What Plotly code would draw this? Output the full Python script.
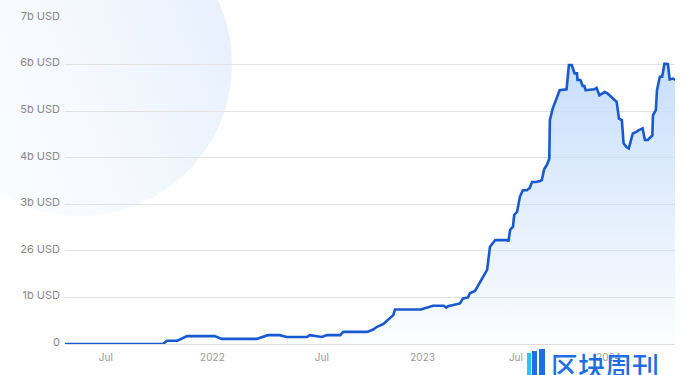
import base64
import plotly.graph_objects as go

# ---- data ----
dates = [
    "2021-04-19", "2021-10-07", "2021-10-14", "2021-11-01", "2021-11-18",
    "2022-01-05", "2022-01-17", "2022-03-19", "2022-04-07", "2022-04-28",
    "2022-05-10", "2022-06-14", "2022-06-19", "2022-07-10", "2022-07-19",
    "2022-08-11", "2022-08-16", "2022-09-27", "2022-10-07", "2022-10-14",
    "2022-10-25", "2022-11-01", "2022-11-11", "2022-11-14", "2022-12-29",
    "2023-01-19", "2023-02-07", "2023-02-11", "2023-02-14", "2023-03-07",
    "2023-03-12", "2023-03-21", "2023-03-24", "2023-04-02", "2023-04-23",
    "2023-04-28", "2023-05-07", "2023-05-28", "2023-05-30", "2023-06-02",
    "2023-06-07", "2023-06-09", "2023-06-14", "2023-06-19", "2023-06-24",
    "2023-07-01", "2023-07-06", "2023-07-10", "2023-07-17", "2023-07-24",
    "2023-07-27", "2023-07-31", "2023-08-05", "2023-08-09", "2023-08-10",
    "2023-08-15", "2023-08-22", "2023-08-27", "2023-09-08", "2023-09-12",
    "2023-09-17", "2023-09-22", "2023-09-26", "2023-09-27", "2023-10-02",
    "2023-10-06", "2023-10-09", "2023-10-11", "2023-10-26", "2023-10-30",
    "2023-11-04", "2023-11-13", "2023-11-18", "2023-11-27", "2023-12-04",
    "2023-12-08", "2023-12-13", "2023-12-16", "2023-12-21", "2023-12-25",
    "2024-01-01", "2024-01-08", "2024-01-11", "2024-01-18", "2024-01-22",
    "2024-01-27", "2024-02-04", "2024-02-05", "2024-02-10", "2024-02-12",
    "2024-02-17", "2024-02-21", "2024-02-25", "2024-03-02", "2024-03-05",
    "2024-03-11", "2024-03-15",
]
values_b = [
    0.00, 0.00, 0.07, 0.07, 0.17,
    0.17, 0.11, 0.11, 0.19, 0.19,
    0.15, 0.15, 0.19, 0.15, 0.19,
    0.19, 0.26, 0.26, 0.31, 0.37,
    0.43, 0.51, 0.62, 0.74, 0.74,
    0.82, 0.82, 0.78, 0.81, 0.87,
    0.98, 1.00, 1.09, 1.14, 1.59,
    2.09, 2.23, 2.23, 2.20, 2.45,
    2.52, 2.77, 2.84, 3.16, 3.30,
    3.30, 3.35, 3.48, 3.48, 3.50,
    3.52, 3.75, 3.85, 3.98, 4.81,
    5.06, 5.27, 5.45, 5.47, 5.99,
    5.99, 5.81, 5.81, 5.67, 5.67,
    5.54, 5.54, 5.45, 5.47, 5.50,
    5.34, 5.41, 5.38, 5.27, 5.20,
    4.84, 4.81, 4.31, 4.23, 4.20,
    4.52, 4.56, 4.59, 4.63, 4.38,
    4.38, 4.48, 4.91, 5.02, 5.45,
    5.74, 5.74, 6.02, 6.01, 5.68,
    5.70, 5.67,
]
y_tickvals = [0, 1, 2, 3, 4, 5, 6, 7]
y_ticktext = ["0", "1b USD", "26 USD", "3b USD", "4b USD", "5b USD", "6b USD", "7b USD"]
x_tickvals = ["2021-06-30", "2022-01-01", "2022-07-10", "2023-01-01", "2023-06-12", "2023-11-20"]
x_ticktext = ["Jul", "2022", "Jul", "2023", "Jul", "2024"]
x_range = ["2021-04-20", "2024-03-14 07:00"]
logo_text = "区块周刊"

# ---- geometry helpers (plot area in pixels) ----
W, H = 682, 375
L, R, T, B = 65, 7, 18, 31
PW, PH = W - L - R, H - T - B


def px(x):
    return (x - L) / PW


def py(y):
    return (H - B - y) / PH


fig = go.Figure()
fig.add_trace(go.Scatter(
    x=dates, y=values_b, mode="lines",
    line=dict(color="#1759d1", width=2.6),
    fill="tozeroy",
    fillgradient=dict(
        type="vertical",
        colorscale=[[0, "rgba(205,225,251,0.08)"], [1, "rgba(200,222,251,1)"]],
    ),
    hoverinfo="skip", showlegend=False,
))

# background decorative circle with gradient
svg = (
    '<svg xmlns="http://www.w3.org/2000/svg" width="304" height="304" viewBox="0 0 304 304">'
    '<defs><linearGradient id="g" x1="0" y1="0.7" x2="1" y2="0.3">'
    '<stop offset="0" stop-color="#fcfdff"/><stop offset="0.55" stop-color="#f4f8fe"/>'
    '<stop offset="1" stop-color="#e6f0fd"/></linearGradient></defs>'
    '<circle cx="152" cy="152" r="152" fill="url(#g)"/></svg>'
)
src = "data:image/svg+xml;base64," + base64.b64encode(svg.encode()).decode()
fig.add_layout_image(dict(
    source=src, xref="paper", yref="paper",
    x=px(-72), y=py(-88), sizex=304 / PW, sizey=304 / PH,
    xanchor="left", yanchor="top", sizing="stretch", layer="below",
))

# watermark logo
bars = [
    (527, 531, 353, "#27c6f3"),
    (532, 537, 351, "#1e6fe6"),
    (539, 545, 349, "#1e6fe6"),
]
for x0, x1, y0, c in bars:
    fig.add_shape(type="rect", xref="paper", yref="paper",
                  x0=px(x0), x1=px(x1), y0=py(y0), y1=py(376),
                  fillcolor=c, line_width=0, layer="above")
fig.add_annotation(
    text=logo_text, xref="paper", yref="paper", x=px(605), y=py(365),
    xanchor="center", yanchor="middle", showarrow=False,
    font=dict(family="Noto Sans CJK SC", size=27, color="#1e6fe6", weight=500),
)

fig.update_layout(
    width=W, height=H,
    margin=dict(l=L, r=R, t=T, b=B),
    paper_bgcolor="white", plot_bgcolor="rgba(0,0,0,0)",
    font=dict(family="Inter", color="#8c8c8c"),
    xaxis=dict(
        type="date", range=x_range,
        tickvals=x_tickvals, ticktext=x_ticktext,
        showgrid=False, zeroline=False,
        showline=True, linecolor="#dedede", linewidth=1,
        ticks="", ticklabelstandoff=4,
        tickfont=dict(size=10, color="#9a9a9a"),
    ),
    yaxis=dict(
        range=[0, 7], tickvals=y_tickvals, ticktext=y_ticktext,
        showgrid=True, gridcolor="#e2e2e2", gridwidth=1,
        zeroline=False, showline=False, ticks="",
        ticklabelstandoff=4, ticklabelshift=-2,
        tickfont=dict(size=11, color="#888888"),
    ),
)

fig.write_html(
    "out.html",
    config={"displayModeBar": False},
    post_script="document.body.style.margin='0';document.body.style.padding='0';",
)
